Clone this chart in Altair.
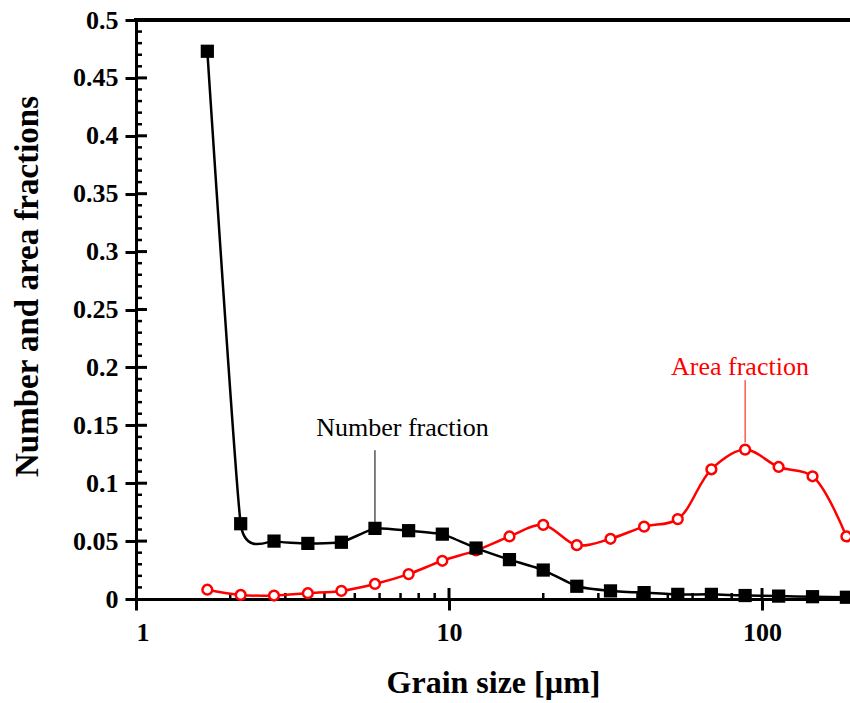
import altair as alt
import pandas as pd

# ---- data ----
grain_size = [1.69, 2.16, 2.76, 3.54, 4.53, 5.8, 7.43, 9.52, 12.2, 15.6,
              20.0, 25.6, 32.8, 42.0, 53.8, 68.9, 88.3, 113, 145, 186]
number_fraction = [0.473, 0.065, 0.050, 0.048, 0.049, 0.061, 0.059, 0.056, 0.044, 0.034,
                   0.025, 0.011, 0.007, 0.0055, 0.004, 0.004, 0.003, 0.0025, 0.002, 0.0015]
area_fraction = [0.008, 0.0035, 0.003, 0.005, 0.007, 0.013, 0.0215, 0.033, 0.042, 0.054,
                 0.064, 0.0465, 0.052, 0.0625, 0.069, 0.112, 0.129, 0.114, 0.106, 0.054]

x_tick_values = [1, 10, 100]
y_tick_values = [0, 0.05, 0.1, 0.15, 0.2, 0.25, 0.3, 0.35, 0.4, 0.45, 0.5]
x_minor_ticks = [2, 3, 4, 5, 6, 7, 8, 9, 20, 30, 40, 50, 60, 70, 80, 90]
x_major_inner = [10, 100]
y_minor_ticks = [round(0.01 * i, 2) for i in range(1, 50) if i % 5 != 0]
y_major_inner = [0.05, 0.1, 0.15, 0.2, 0.25, 0.3, 0.35, 0.4, 0.45]

annotations = pd.DataFrame({
    "label": ["Number fraction", "Area fraction"],
    "tx": [7.1, 85.0],
    "ty": [0.1405, 0.1934],
    "lx": [5.8, 88.3],
    "ly1": [0.1285, 0.189],
    "ly2": [0.066, 0.135],
    "color": ["black", "red"],
})

W, H = 714, 579
FONT = "Liberation Serif"

df = pd.DataFrame({"x": grain_size, "number": number_fraction, "area": area_fraction})

xscale = alt.Scale(type="log", domain=[1, 191], nice=False)
yscale = alt.Scale(domain=[0, 0.5], nice=False)

xaxis = alt.Axis(values=x_tick_values, format="~g", title="Grain size [µm]",
                 tickSize=11, labelPadding=9, titlePadding=22, grid=False)
yaxis = alt.Axis(values=y_tick_values, format="~g", title="Number and area fractions",
                 tickSize=11, labelPadding=7, grid=False, titleX=-92, titleY=266)

X = alt.X("x:Q", scale=xscale, axis=xaxis)

line_red = alt.Chart(df).mark_line(interpolate="catmull-rom", color="#ff0000", strokeWidth=2.5).encode(
    x=X, y=alt.Y("area:Q", scale=yscale, axis=yaxis))
line_black = alt.Chart(df).mark_line(interpolate="cardinal", tension=0.6, color="black",
                                     strokeWidth=2.5).encode(
    x=X, y=alt.Y("number:Q", scale=yscale, axis=yaxis))
pts_red = alt.Chart(df).mark_point(shape="circle", filled=True, fill="white", stroke="#ff0000",
                                   strokeWidth=2.5, size=95, opacity=1).encode(
    x=X, y=alt.Y("area:Q", scale=yscale, axis=yaxis))
pts_black = alt.Chart(df).mark_point(shape="square", filled=True, color="black", size=175, opacity=1).encode(
    x=X, y=alt.Y("number:Q", scale=yscale, axis=yaxis))

# inner tick marks (inward-facing parts of the frame ticks)
ymin_df = pd.DataFrame({"v": y_minor_ticks})
ymaj_df = pd.DataFrame({"v": y_major_inner})
xmin_df = pd.DataFrame({"x": x_minor_ticks})
xmaj_df = pd.DataFrame({"x": x_major_inner})

ytick_min = alt.Chart(ymin_df).mark_rule(color="black", strokeWidth=2.5).encode(
    y=alt.Y("v:Q", scale=yscale, axis=yaxis), x=alt.value(0), x2=alt.value(6))
ytick_maj = alt.Chart(ymaj_df).mark_rule(color="black", strokeWidth=3).encode(
    y=alt.Y("v:Q", scale=yscale, axis=yaxis), x=alt.value(0), x2=alt.value(11))
xtick_min = alt.Chart(xmin_df).mark_rule(color="black", strokeWidth=2.5).encode(
    x=X, y=alt.value(H), y2=alt.value(H - 6))
xtick_maj = alt.Chart(xmaj_df).mark_rule(color="black", strokeWidth=3).encode(
    x=X, y=alt.value(H), y2=alt.value(H - 11))

top_border = alt.Chart(df).mark_rule(color="black", strokeWidth=3).encode(
    x=alt.value(-1.5), x2=alt.value(W), y=alt.value(0))

ann_text = alt.Chart(annotations).mark_text(font=FONT, fontSize=26, align="center",
                                            baseline="alphabetic").encode(
    x=alt.X("tx:Q", scale=xscale, axis=xaxis),
    y=alt.Y("ty:Q", scale=yscale, axis=yaxis),
    text="label:N",
    color=alt.Color("color:N", scale=None))
ann_line = alt.Chart(annotations).mark_rule(strokeWidth=1).encode(
    x=alt.X("lx:Q", scale=xscale, axis=xaxis),
    y=alt.Y("ly1:Q", scale=yscale, axis=yaxis),
    y2="ly2:Q",
    color=alt.Color("color:N", scale=None))

chart = alt.layer(
    ytick_min, ytick_maj, xtick_min, xtick_maj, top_border,
    ann_line, ann_text,
    line_red, line_black, pts_red, pts_black,
).properties(
    width=W, height=H,
    autosize=alt.AutoSizeParams(type="none"),
    padding={"left": 136, "top": 20, "right": 0, "bottom": 104},
    background="white",
).configure_view(stroke=None).configure_axis(
    labelFont=FONT, labelFontWeight="bold", labelFontSize=26, labelColor="black",
    titleFont=FONT, titleFontWeight="bold", titleFontSize=32, titleColor="black",
    domainColor="black", domainWidth=3, tickColor="black", tickWidth=3,
).configure_axisY(titleFontSize=33)

chart.save("out.html", embed_options={"renderer": "svg", "actions": False})
